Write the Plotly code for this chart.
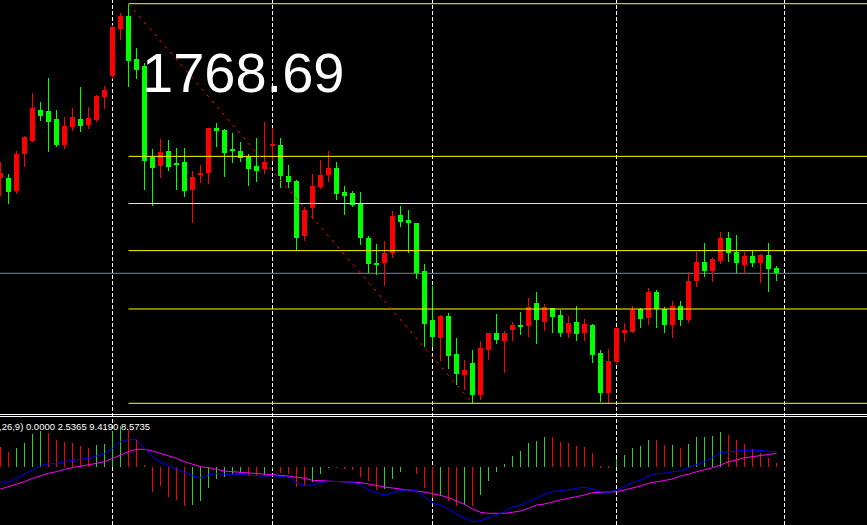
import plotly.graph_objects as go

# ---------------- data ----------------
opens = [1751.29, 1751.29, 1749.96, 1753.69, 1754.96, 1758.06, 1757.96, 1757.16, 1754.56, 1756.39,
         1757.16, 1756.59, 1757.09, 1759.36, 1761.46, 1766.16, 1767.49, 1763.16, 1762.49, 1753.39,
         1752.49, 1753.96, 1752.79, 1752.86, 1750.06, 1751.56, 1751.76, 1756.26, 1756.06, 1754.16,
         1753.96, 1753.39, 1752.46, 1752.16, 1754.46, 1754.56, 1751.46, 1750.96, 1745.49, 1748.29,
         1750.36, 1751.59, 1752.26, 1749.86, 1749.76, 1748.69, 1745.29, 1742.79, 1742.79, 1743.79,
         1747.56, 1747.06, 1746.76, 1741.96, 1737.06, 1735.29, 1737.46, 1733.66, 1731.59, 1732.79,
         1729.59, 1734.09, 1735.79, 1734.99, 1736.09, 1736.49, 1736.49, 1738.79, 1736.89, 1738.29,
         1737.59, 1735.79, 1736.89, 1735.76, 1736.56, 1733.76, 1729.76, 1732.86, 1735.76, 1735.86,
         1738.16, 1737.26, 1739.86, 1738.16, 1736.56, 1738.46, 1737.06, 1740.96, 1742.86, 1741.96,
         1742.96, 1745.26, 1743.86, 1742.56, 1743.46, 1742.76, 1743.56, 1742.26]
highs = [1752.83, 1751.69, 1753.99, 1755.49, 1759.76, 1758.86, 1761.26, 1758.06, 1757.39, 1758.29,
         1760.33, 1758.36, 1759.59, 1760.46, 1766.53, 1767.79, 1768.69, 1764.29, 1762.73, 1754.16,
         1755.16, 1755.06, 1754.29, 1754.26, 1751.96, 1752.56, 1756.26, 1756.76, 1756.16, 1755.76,
         1754.86, 1753.66, 1755.26, 1756.86, 1756.26, 1755.26, 1752.56, 1751.06, 1748.33, 1751.66,
         1753.06, 1753.96, 1752.86, 1750.46, 1749.96, 1749.86, 1745.49, 1744.66, 1744.99, 1747.96,
         1748.46, 1748.06, 1746.76, 1742.66, 1740.46, 1737.56, 1737.76, 1735.29, 1733.09, 1734.09,
         1734.99, 1735.79, 1737.69, 1735.99, 1736.89, 1737.89, 1739.29, 1739.89, 1738.69, 1738.29,
         1738.09, 1737.49, 1738.49, 1737.16, 1736.66, 1734.06, 1734.16, 1736.26, 1736.76, 1738.46,
         1738.26, 1740.26, 1740.06, 1738.36, 1738.96, 1738.96, 1741.86, 1743.86, 1744.76, 1743.36,
         1745.86, 1745.86, 1745.56, 1743.86, 1744.06, 1743.66, 1744.76, 1742.46]
lows = [1749.49, 1748.69, 1749.69, 1752.39, 1754.89, 1756.99, 1753.89, 1754.36, 1754.13, 1755.99,
        1755.89, 1756.19, 1756.89, 1758.16, 1761.19, 1765.09, 1760.36, 1761.16, 1750.06, 1748.46,
        1751.29, 1751.99, 1750.09, 1749.39, 1746.79, 1750.76, 1750.66, 1754.36, 1751.36, 1752.76,
        1752.86, 1750.46, 1750.86, 1751.69, 1752.96, 1750.26, 1750.26, 1743.96, 1744.99, 1747.19,
        1750.16, 1750.89, 1749.09, 1747.59, 1748.39, 1744.59, 1741.79, 1741.59, 1740.49, 1743.29,
        1746.39, 1743.79, 1741.19, 1734.39, 1734.39, 1732.99, 1732.19, 1730.59, 1730.09, 1728.73,
        1729.09, 1733.09, 1734.69, 1731.79, 1734.99, 1735.59, 1735.39, 1734.69, 1735.99, 1735.79,
        1735.39, 1735.29, 1734.99, 1734.96, 1732.76, 1728.86, 1728.76, 1732.66, 1734.86, 1735.76,
        1736.26, 1736.56, 1736.26, 1735.76, 1735.26, 1736.46, 1736.76, 1740.36, 1741.36, 1740.86,
        1742.66, 1742.86, 1741.76, 1741.66, 1742.36, 1740.76, 1739.86, 1740.96]
closes = [1751.76, 1749.86, 1753.69, 1755.39, 1758.29, 1757.49, 1756.89, 1754.56, 1756.46, 1757.36,
          1756.49, 1757.29, 1759.49, 1760.06, 1766.36, 1767.49, 1762.96, 1762.09, 1752.96, 1752.29,
          1753.86, 1752.36, 1752.59, 1749.96, 1751.36, 1751.76, 1756.26, 1755.99, 1753.76, 1753.96,
          1753.29, 1752.16, 1751.96, 1752.86, 1754.66, 1751.46, 1750.86, 1745.29, 1748.06, 1750.46,
          1751.56, 1752.26, 1749.69, 1749.49, 1748.59, 1745.29, 1742.69, 1742.59, 1743.76, 1747.46,
          1746.89, 1746.79, 1741.76, 1736.69, 1735.39, 1737.46, 1733.49, 1731.69, 1732.09, 1729.59,
          1734.29, 1735.79, 1735.09, 1735.79, 1736.59, 1736.39, 1738.39, 1737.09, 1738.39, 1737.39,
          1735.79, 1736.79, 1735.69, 1736.66, 1733.56, 1729.76, 1732.96, 1736.26, 1736.06, 1738.06,
          1737.16, 1739.86, 1738.16, 1736.56, 1738.46, 1737.06, 1740.96, 1742.86, 1741.96, 1743.16,
          1745.26, 1743.76, 1742.76, 1743.46, 1742.76, 1743.56, 1742.16, 1741.73]

macd_hist = [20.3, 15.3, 19.0, 24.3, 33.3, 36.3, 34.3, 27.3, 25.3, 24.3,
             21.3, 19.3, 22.3, 23.3, 36.3, 41.7, 37.3, 27.3, 2.3, -24.3,
             -18.3, -29.3, -32.3, -38.3, -37.3, -33.3, -20.3, -11.3, -9.3, -6.3,
             -5.3, -8.3, -8.3, -7.3, -2.0, -5.3, -6.3, -19.3, -18.3, -14.3,
             -6.3, -0.7, -0.7, -1.3, -2.3, -9.3, -13.3, -22.3, -21.3, -11.3,
             -4.3, 0.0, -6.3, -20.3, -31.0, -28.4, -33.4, -38.4, -37.4, -38.4,
             -27.4, -13.4, -4.4, 3.3, 11.3, 16.3, 24.3, 26.3, 30.3, 30.3,
             25.3, 24.3, 21.3, 20.3, 14.3, 1.3, 1.3, 8.3, 12.3, 19.3,
             21.3, 27.3, 27.3, 22.3, 22.3, 19.3, 23.3, 30.3, 30.3, 31.3,
             35.3, 32.3, 27.3, 23.3, 18.3, 14.3, 9.3, 4.2]
# which indicator buffer each histogram value belongs to (R / G)
hist_buffer = ("RRGGGGRRRR" "RRGGGGRRRR" "RRRRGGGGGG" "GRRGGRRRRG" "GGRRRRRRGG"
               "GGRRRGRRGR" "GGGGGGGGGR" "RRRRRRRGGG" "GGRRGRGGGG" "GRRRRRRR")
macd_main = [-14.7, -14.7, -11.0, -6.7, -2.0, 1.6, 3.6, 3.6, 5.6, 7.0,
             8.0, 9.0, 11.0, 13.6, 19.0, 25.6, 28.0, 28.0, 19.0, 10.6,
             5.0, 1.6, -1.0, -5.0, -8.4, -10.4, -7.7, -6.2, -7.0, -7.0,
             -7.0, -8.0, -8.7, -8.7, -8.4, -9.0, -10.0, -15.7, -18.0, -17.7,
             -15.4, -14.0, -14.0, -14.0, -14.7, -17.7, -22.7, -25.4, -27.7, -25.4,
             -23.4, -22.4, -23.4, -29.4, -35.5, -38.0, -41.7, -46.7, -50.4, -54.4,
             -53.4, -50.4, -47.7, -44.4, -39.7, -37.7, -34.4, -30.4, -27.0, -24.4,
             -23.7, -22.4, -21.0, -20.0, -21.7, -24.4, -25.0, -22.7, -19.4, -15.0,
             -13.0, -8.7, -6.0, -6.0, -4.4, -3.7, -0.4, 3.0, 5.6, 10.0,
             14.6, 15.6, 16.6, 17.0, 17.0, 17.0, 16.0, 15.6]
macd_signal = [-21.7, -19.4, -17.0, -14.4, -11.0, -8.4, -6.0, -4.4, -2.0, -0.4,
               1.3, 2.3, 4.0, 5.6, 9.0, 12.3, 15.6, 18.0, 18.0, 16.3,
               14.0, 11.6, 9.0, 5.6, 3.0, 0.6, -0.4, -1.9, -3.7, -4.4,
               -5.0, -5.7, -6.4, -7.0, -7.4, -8.0, -8.7, -10.0, -11.0, -13.0,
               -13.4, -14.0, -14.4, -14.4, -14.7, -15.4, -16.7, -18.4, -19.7, -20.7,
               -21.7, -22.0, -23.0, -24.7, -26.4, -28.0, -30.4, -33.7, -37.0, -41.7,
               -45.0, -46.0, -46.0, -46.0, -45.0, -43.7, -41.0, -37.7, -36.7, -34.4,
               -32.7, -31.0, -29.4, -27.7, -25.4, -25.0, -25.0, -24.4, -22.7, -21.0,
               -18.7, -16.0, -14.4, -13.0, -11.7, -8.7, -7.0, -4.4, -2.7, -0.4,
               2.3, 5.6, 7.3, 9.6, 10.6, 11.6, 13.0, 14.0]

fib_ratios = [0.0, 0.236, 0.382, 0.5, 0.618, 1.0]
separator_bars = [14, 34, 54, 77, 98]
macd_label = ",26,9) 0.0000 2.5365 9.4190 8.5735"

# ---------------- styling / geometry ----------------
W, H = 867, 525
PX_PER_BAR = 8.0
X_MIN = -0.5 / PX_PER_BAR
X_MAX = X_MIN + W / PX_PER_BAR
MAIN_RANGE = [1727.76, 1769.06]
SUB_RANGE = [-57.7, 50.3]
MAIN_DOMAIN = [1 - 413 / H, 1.0]
SUB_DOMAIN = [0.0, (H - 417) / H]

UP_COL, DN_COL = "#FF0000", "#00FF00"
HIST_COL = {"R": "#FF0000", "G": "#32CD32"}

n = len(opens)
bars = list(range(n))
hi = max(highs)
lo = min(lows)
i_hi = highs.index(hi)
i_lo = lows.index(lo)

cols = [UP_COL if c > o else DN_COL for o, c in zip(opens, closes)]
wick_len = [h - l for h, l in zip(highs, lows)]
body_base = [min(o, c) for o, c in zip(opens, closes)]
body_len = [max(abs(c - o), 0.1) for o, c in zip(opens, closes)]

fig = go.Figure()
fig.add_trace(go.Bar(x=bars, base=lows, y=wick_len, width=1 / PX_PER_BAR,
                     marker=dict(color=cols, line=dict(width=0)),
                     xaxis="x", yaxis="y", hoverinfo="skip"))
fig.add_trace(go.Bar(x=bars, base=body_base, y=body_len, width=5 / PX_PER_BAR,
                     marker=dict(color=cols, line=dict(width=0)),
                     xaxis="x", yaxis="y", hoverinfo="skip"))
fig.add_trace(go.Bar(x=bars, y=macd_hist, width=1 / PX_PER_BAR,
                     marker=dict(color=[HIST_COL[b] for b in hist_buffer], line=dict(width=0)),
                     xaxis="x2", yaxis="y2", hoverinfo="skip"))
fig.add_trace(go.Scatter(x=bars, y=macd_signal, mode="lines",
                         line=dict(color="#FF00FF", width=1),
                         xaxis="x2", yaxis="y2", hoverinfo="skip"))
fig.add_trace(go.Scatter(x=bars, y=macd_main, mode="lines",
                         line=dict(color="#0000FF", width=1),
                         xaxis="x2", yaxis="y2", hoverinfo="skip"))

shapes = []
# period separators (grid, behind data)
for b in separator_bars:
    shapes.append(dict(type="line", xref="x", yref="paper", x0=b, x1=b, y0=0, y1=1,
                       layer="below", line=dict(color="#FFFFFF", width=1, dash="4px,2px")))
# bid line
shapes.append(dict(type="line", xref="paper", yref="y", x0=0, x1=1,
                   y0=closes[-1], y1=closes[-1], layer="below",
                   line=dict(color="#778899", width=1)))
# fibonacci levels
for r in fib_ratios:
    lvl = lo + (hi - lo) * r
    shapes.append(dict(type="line", xref="x", yref="y", x0=i_hi, x1=X_MAX,
                       y0=lvl, y1=lvl, line=dict(color="#FFFF00", width=1)))
# fibonacci trend line
shapes.append(dict(type="line", xref="x", yref="y", x0=i_hi, y0=hi, x1=i_lo, y1=lo,
                   line=dict(color="#FF0000", width=1, dash="3px,5px")))
# window separator
for ypx in (414.5, 416.5):
    shapes.append(dict(type="line", xref="paper", yref="paper", x0=0, x1=1,
                       y0=1 - ypx / H, y1=1 - ypx / H,
                       line=dict(color="#FFFFFF", width=1)))

annotations = [
    dict(text=f"{hi:.2f}", xref="paper", yref="paper", x=141.5 / W, y=1 - 72.2 / H,
         xanchor="left", yanchor="middle", showarrow=False, borderpad=0, borderwidth=0,
         font=dict(family="Liberation Sans", size=56, color="#FFFFFF")),
    dict(text=macd_label, xref="paper", yref="paper", x=-1 / W, y=1 - 426.2 / H,
         xanchor="left", yanchor="middle", showarrow=False, borderpad=0, borderwidth=0,
         font=dict(family="Liberation Sans", size=9.5, color="#FFFFFF")),
]

fig.update_layout(
    width=W, height=H, margin=dict(l=0, r=0, t=0, b=0, pad=0),
    paper_bgcolor="#000000", plot_bgcolor="rgba(0,0,0,0)",
    showlegend=False, hovermode=False, barmode="overlay", bargap=0,
    xaxis=dict(range=[X_MIN, X_MAX], domain=[0, 1], anchor="y", visible=False, fixedrange=True),
    yaxis=dict(range=MAIN_RANGE, domain=MAIN_DOMAIN, anchor="x", visible=False, fixedrange=True),
    xaxis2=dict(range=[X_MIN, X_MAX], domain=[0, 1], anchor="y2", matches="x", visible=False),
    yaxis2=dict(range=SUB_RANGE, domain=SUB_DOMAIN, anchor="x2", visible=False, fixedrange=True),
    shapes=shapes, annotations=annotations,
)

fig.write_html("out.html", config={"displayModeBar": False},
               post_script="document.body.style.margin='0';document.body.style.overflow='hidden';")
